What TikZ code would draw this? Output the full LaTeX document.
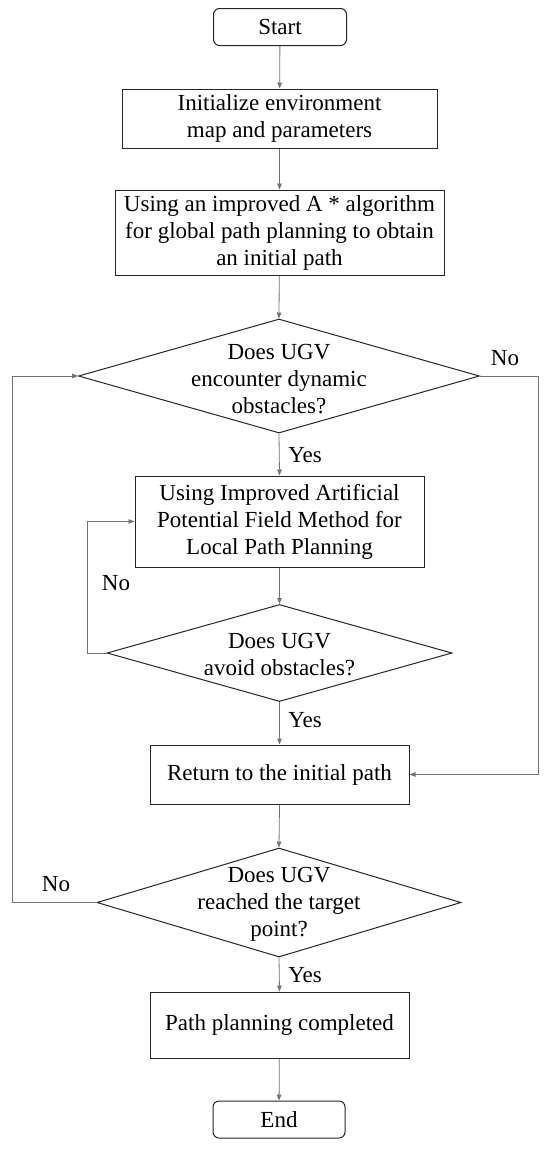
\documentclass[tikz,border=0pt]{standalone}
\usepackage{fontspec}
\setmainfont{Liberation Serif}
\newfontfamily\tnr{Liberation Serif}
\usetikzlibrary{shapes.geometric,arrows.meta}
\begin{document}
\begin{tikzpicture}[x=1pt,y=-1pt,
  box/.style={draw=black!85,line width=1pt,inner sep=0pt,align=center,font=\tnr\fontsize{23}{27}\selectfont},
  term/.style={box,rounded corners=6pt},
  dia/.style={draw=black!85,line width=1pt,shape=diamond,inner sep=0pt},
  dtext/.style={align=center,font=\tnr\fontsize{23}{27}\selectfont,inner sep=0pt},
  lbl/.style={font=\tnr\fontsize{23}{27}\selectfont,inner sep=0pt},
  arr/.style={draw=black!55,line width=0.8pt,-{Triangle[length=6pt,width=4.5pt]}}]
\useasboundingbox (0,0) rectangle (550,1149);
\node[term,minimum width=133,minimum height=37] (start) at (280,27) {Start};
\node[box,minimum width=315,minimum height=59] (init) at (279.5,118.5) {Initialize environment\\map and parameters};
\node[box,minimum width=329,minimum height=85] (astar) at (279.5,232.5) {Using an improved A * algorithm\\for global path planning to obtain\\an initial path};
\node[dia,minimum width=401,minimum height=114] (d1) at (279,376) {};
\node[dtext] (d1t) at (279,379) {Does UGV\\encounter dynamic\\obstacles?};
\node[box,minimum width=289,minimum height=91] (apf) at (279.5,521.5) {Using Improved Artificial\\Potential Field Method for\\Local Path Planning};
\node[dia,minimum width=345,minimum height=97] (d2) at (279.5,653) {};
\node[dtext] (d2t) at (279.5,655) {Does UGV\\avoid obstacles?};
\node[box,minimum width=259,minimum height=59] (ret) at (279.5,774.5) {Return to the initial path};
\node[dia,minimum width=364,minimum height=109] (d3) at (279,902.5) {};
\node[dtext] (d3t) at (279,904) {Does UGV\\reached the target\\point?};
\node[box,minimum width=259,minimum height=66] (done) at (279.5,1025) {Path planning completed};
\node[term,minimum width=132,minimum height=37] (end) at (279,1119.5) {End};

\node[lbl] (no1) at (505,358) {No};
\node[lbl] (yes1) at (305,455) {Yes};
\node[lbl] (no2) at (116,583) {No};
\node[lbl] (yes2) at (305,720) {Yes};
\node[lbl] (no3) at (56,884) {No};
\node[lbl] (yes3) at (305,975) {Yes};

\coordinate (r1) at (538,376);
\coordinate (r2) at (538,774.5);
\coordinate (l1) at (87,653);
\coordinate (l2) at (87,521.5);
\coordinate (m1) at (12,902.5);
\coordinate (m2) at (12,376);

\draw[arr] (start) -- (init);
\draw[arr] (init) -- (astar);
\draw[arr] (astar) -- (d1.north);
\draw[arr] (d1.south) -- (apf.north);
\draw[arr] (apf.south) -- (d2.north);
\draw[arr] (d2.south) -- (ret.north);
\draw[arr] (ret.south) -- (d3.north);
\draw[arr] (d3.south) -- (done.north);
\draw[arr] (done) -- (end);
\draw[arr] (d1.east) -- (r1) -- (r2) -- (ret.east);
\draw[arr] (d2.west) -- (l1) -- (l2) -- (apf.west);
\draw[arr] (d3.west) -- (m1) -- (m2) -- (d1.west);
\end{tikzpicture}
\end{document}
